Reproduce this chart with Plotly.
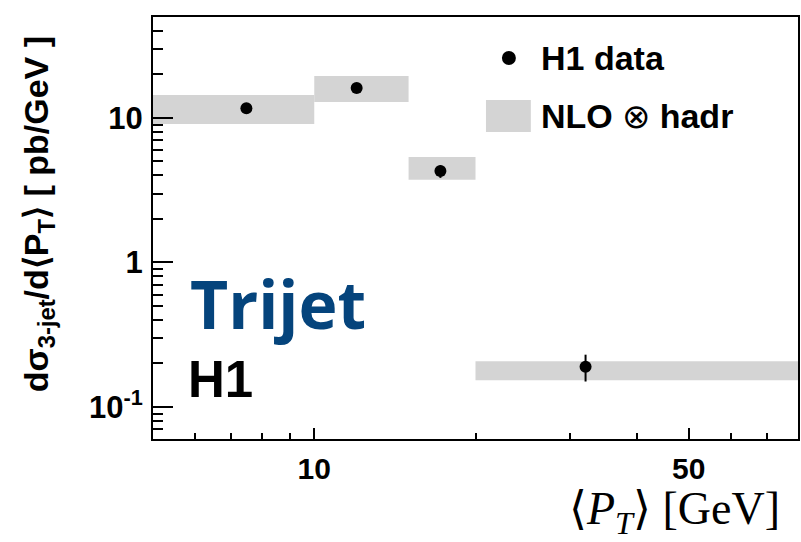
import plotly.graph_objects as go
import math

# ---- data ----
bin_lo = [5, 10, 15, 20]
bin_hi = [10, 15, 20, 80]
data_x = [7.47, 12.0, 17.2, 32.1]
data_y = [11.7, 16.1, 4.3, 0.19]
err_up = [0.4, 0.5, 0.40, 0.04]
err_dn = [0.4, 0.5, 0.45, 0.04]
nlo_lo = [9.1, 12.9, 3.73, 0.153]
nlo_hi = [14.4, 19.5, 5.38, 0.207]

x_tickvals = [10, 50]
x_ticktext = ["10", "50"]
x_minor = [6, 7, 8, 9, 20, 30, 40, 60, 70]
y_tickvals = [0.1, 1, 10]
y_ticktext = ["10<sup>-1</sup>", "1", "10"]
y_minor = [0.07, 0.08, 0.09, 0.2, 0.3, 0.4, 0.5, 0.6, 0.7, 0.8, 0.9,
           2, 3, 4, 5, 6, 7, 8, 9, 20, 30, 40]

GRAY = "#d4d4d4"
BLUE = "#05447c"

fig = go.Figure()
for lo, hi, b, t in zip(bin_lo, bin_hi, nlo_lo, nlo_hi):
    fig.add_trace(go.Scatter(x=[lo, hi, hi, lo, lo], y=[b, b, t, t, b],
                             fill="toself", fillcolor=GRAY, mode="lines",
                             line=dict(width=0, color=GRAY), showlegend=False,
                             hoverinfo="skip"))
fig.add_trace(go.Scatter(x=data_x, y=data_y, mode="markers",
                         marker=dict(color="black", size=12),
                         error_y=dict(type="data", symmetric=False, array=err_up,
                                      arrayminus=err_dn, color="black",
                                      thickness=2, width=0),
                         showlegend=False))

W, H = 801, 542
L, R, T, B = 153, 800, 17, 439

def px(x):
    return (x - L) / (R - L)

def py(y):
    return (B - y) / (B - T)

fig.update_layout(
    width=W, height=H,
    margin=dict(l=L, r=W - R, t=T, b=H - B),
    plot_bgcolor="white", paper_bgcolor="white",
    font=dict(family="Liberation Sans, Arial", color="black"),
    xaxis=dict(type="log", range=[math.log10(5), math.log10(80)],
               showline=True, linecolor="black", linewidth=2, mirror=True,
               showgrid=False, zeroline=False,
               tickmode="array", tickvals=x_tickvals, ticktext=x_ticktext,
               ticks="inside", ticklen=11, tickwidth=2, tickcolor="black",
               tickfont=dict(size=30, family="Liberation Sans, Arial", weight="bold"),
               ticklabelstandoff=2,
               minor=dict(tickmode="array", tickvals=x_minor, ticks="inside",
                          ticklen=6, tickwidth=2, tickcolor="black", showgrid=False)),
    yaxis=dict(type="log", range=[math.log10(0.06), math.log10(50)],
               showline=True, linecolor="black", linewidth=2, mirror=True,
               showgrid=False, zeroline=False,
               tickmode="array", tickvals=y_tickvals, ticktext=y_ticktext,
               ticks="inside", ticklen=20, tickwidth=2, tickcolor="black",
               tickfont=dict(size=31, family="Liberation Sans, Arial", weight="bold"),
               ticklabelstandoff=2,
               minor=dict(tickmode="array", tickvals=y_minor, ticks="inside",
                          ticklen=10, tickwidth=2, tickcolor="black", showgrid=False)),
)

ann = []
ann.append(dict(xref="paper", yref="paper", x=px(188), y=py(303), xanchor="left",
                yanchor="middle", text="<b>Trijet</b>", showarrow=False,
                font=dict(family="Open Sans", size=66, color=BLUE)))
ann.append(dict(xref="paper", yref="paper", x=px(186), y=py(379), xanchor="left",
                yanchor="middle", text="<b>H1</b>", showarrow=False,
                font=dict(family="Liberation Sans, Arial", size=51, color="black")))
ann.append(dict(xref="paper", yref="paper", x=px(540), y=py(58), xanchor="left",
                yanchor="middle", text="<b>H1 data</b>", showarrow=False,
                font=dict(size=34)))
ann.append(dict(xref="paper", yref="paper", x=px(540), y=py(116), xanchor="left",
                yanchor="middle", text="<b>NLO</b> ⊗ <b>hadr</b>", showarrow=False,
                font=dict(size=34)))
ann.append(dict(xref="paper", yref="paper", x=-(L - 38) / (R - L), y=py(214),
                xanchor="center", yanchor="middle", textangle=-90,
                text="<b>dσ<sub>3-jet</sub>/d⟨P<sub>T</sub>⟩ [ pb/GeV ]</b>",
                showarrow=False, font=dict(size=34)))
ann.append(dict(xref="paper", yref="paper", x=px(568), y=py(512), xanchor="left",
                yanchor="middle",
                text="⟨<i>P</i><sub><i>T</i></sub>⟩ [GeV]",
                showarrow=False,
                font=dict(family="Liberation Serif", size=46, color="black")))
fig.update_layout(annotations=ann)

fig.add_shape(type="circle", xref="paper", yref="paper",
              x0=px(503), x1=px(517), y0=py(51), y1=py(65),
              fillcolor="black", line=dict(width=0))
fig.add_shape(type="rect", xref="paper", yref="paper",
              x0=px(487), x1=px(532), y0=py(100), y1=py(132),
              fillcolor=GRAY, line=dict(width=0))

fig.write_html("out.html")
